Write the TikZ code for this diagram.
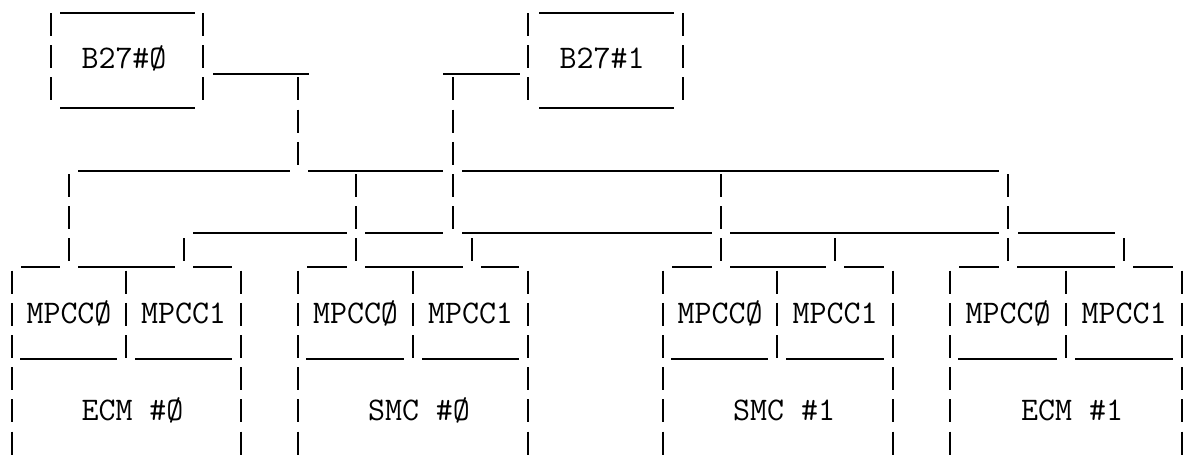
\documentclass[tikz,border=0pt]{standalone}
\usepackage{fontspec}
\newcommand\asciibar[3]{\foreach \k in {#2,...,#3}{\draw[ln] (#1,{13+32.2*\k}) -- (#1,{36+32.2*\k});}}
\newcommand\hseg[3]{\draw[ln] (#2,#1) -- (#3,#1);}
% L M R a b name id
\newcommand\unitbox[7]{%
  \hseg{267}{#1+9}{#4-9}\hseg{267}{#4+9}{#5-9}\hseg{267}{#5+9}{#3-9}%
  \asciibar{#1}{8}{13}\asciibar{#3}{8}{13}\asciibar{#2}{8}{10}%
  \hseg{359}{#1+8}{#2-9}\hseg{359}{#2+9}{#3-9}%
  \node[lbl] (#7-m0) at ({(#1+#2)/2},313) {MPCCØ};%
  \node[lbl] (#7-m1) at ({(#2+#3)/2},313) {MPCC1};%
  \node[lbl] (#7) at ({(#1+#3)/2+6},410) {#6};%
}
\begin{document}
\begin{tikzpicture}[x=0.5pt,y=-0.5pt,
  ln/.style={line width=1.1pt},
  lbl/.style={font=\ttfamily\fontsize{16.5}{16.5}\selectfont, inner sep=0pt}]
\useasboundingbox (0,0) rectangle (1188,456);
% B27 boxes
\hseg{13}{60}{195}\hseg{108}{60}{195}
\asciibar{51}{0}{2}\asciibar{203}{0}{2}
\node[lbl] (b0) at (124,58) {B27\#Ø};
\hseg{13}{539}{674}\hseg{108}{539}{674}
\asciibar{528}{0}{2}\asciibar{683}{0}{2}
\node[lbl] (b1) at (602,58) {B27\#1};
% connectors from B27s
\hseg{74}{213}{309}\asciibar{298}{2}{4}
\hseg{74}{443}{520}\asciibar{453}{2}{6}
% bus A
\hseg{171}{78}{290}\hseg{171}{308}{443}\hseg{171}{462}{999}
\asciibar{69}{5}{7}\asciibar{356}{5}{7}\asciibar{721}{5}{7}\asciibar{1008}{5}{7}
% bus B
\hseg{233}{193}{347}\hseg{233}{365}{443}\hseg{233}{462}{712}\hseg{233}{730}{999}\hseg{233}{1018}{1115}
\asciibar{184}{7}{7}\asciibar{472}{7}{7}\asciibar{835}{7}{7}\asciibar{1124}{7}{7}
% units
\unitbox{12}{126}{241}{69}{184}{ECM \#Ø}{ecm0}
\unitbox{298}{413}{528}{356}{472}{SMC \#Ø}{smc0}
\unitbox{663}{777}{893}{721}{835}{SMC \#1}{smc1}
\unitbox{950}{1066}{1182}{1008}{1124}{ECM \#1}{ecm1}
\end{tikzpicture}
\end{document}
